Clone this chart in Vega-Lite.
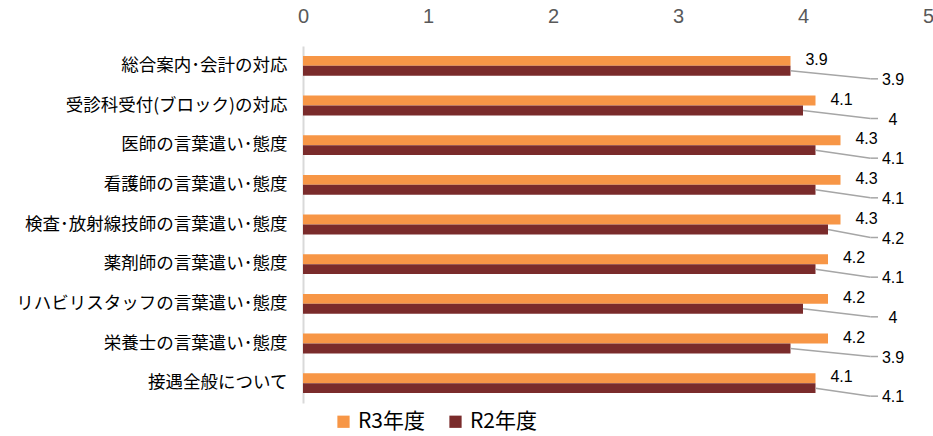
{
  "$schema": "https://vega.github.io/schema/vega-lite/v6.json",
  "autosize": "none",
  "width": 625,
  "height": 357,
  "padding": {"left": 303, "top": 46, "right": 5, "bottom": 33},
  "background": "white",
  "config": {
    "font": "Noto Sans CJK JP",
    "view": {"stroke": null}
  },
  "data": {
    "values": [
      {"cat": "総合案内･会計の対応", "year": "R3年度", "value": 3.9},
      {"cat": "総合案内･会計の対応", "year": "R2年度", "value": 3.9},
      {"cat": "受診科受付(ブロック)の対応", "year": "R3年度", "value": 4.1},
      {"cat": "受診科受付(ブロック)の対応", "year": "R2年度", "value": 4},
      {"cat": "医師の言葉遣い･態度", "year": "R3年度", "value": 4.3},
      {"cat": "医師の言葉遣い･態度", "year": "R2年度", "value": 4.1},
      {"cat": "看護師の言葉遣い･態度", "year": "R3年度", "value": 4.3},
      {"cat": "看護師の言葉遣い･態度", "year": "R2年度", "value": 4.1},
      {"cat": "検査･放射線技師の言葉遣い･態度", "year": "R3年度", "value": 4.3},
      {"cat": "検査･放射線技師の言葉遣い･態度", "year": "R2年度", "value": 4.2},
      {"cat": "薬剤師の言葉遣い･態度", "year": "R3年度", "value": 4.2},
      {"cat": "薬剤師の言葉遣い･態度", "year": "R2年度", "value": 4.1},
      {"cat": "リハビリスタッフの言葉遣い･態度", "year": "R3年度", "value": 4.2},
      {"cat": "リハビリスタッフの言葉遣い･態度", "year": "R2年度", "value": 4},
      {"cat": "栄養士の言葉遣い･態度", "year": "R3年度", "value": 4.2},
      {"cat": "栄養士の言葉遣い･態度", "year": "R2年度", "value": 3.9},
      {"cat": "接遇全般について", "year": "R3年度", "value": 4.1},
      {"cat": "接遇全般について", "year": "R2年度", "value": 4.1}
    ]
  },
  "layer": [
    {
      "mark": {"type": "bar"},
      "encoding": {
        "y": {
          "field": "cat", "type": "nominal", "sort": null,
          "scale": {"paddingInner": 0.5, "paddingOuter": 0.25},
          "axis": {
            "title": null, "ticks": false, "domain": true,
            "domainColor": "#D9D9D9", "domainWidth": 2,
            "labelFontSize": 17.5, "labelColor": "#000000",
            "labelPadding": 16, "labelLimit": 300
          }
        },
        "yOffset": {
          "field": "year", "type": "nominal", "sort": ["R3年度", "R2年度"],
          "scale": {"paddingInner": 0, "paddingOuter": 0}
        },
        "x": {
          "field": "value", "type": "quantitative",
          "scale": {"domain": [0, 5], "nice": false},
          "axis": {
            "orient": "top", "title": null, "values": [0, 1, 2, 3, 4, 5], "format": "d",
            "grid": false, "ticks": false, "domain": false, "labelFlush": false,
            "labelFontSize": 20, "labelColor": "#595959", "labelPadding": 20,
            "labelFont": "Liberation Sans"
          }
        },
        "color": {
          "field": "year", "type": "nominal",
          "scale": {"domain": ["R3年度", "R2年度"], "range": ["#F79646", "#7A2B2B"]},
          "legend": {
            "title": null, "orient": "none", "direction": "horizontal",
            "legendX": 30, "legendY": 365,
            "symbolType": "square", "symbolSize": 150, "symbolStrokeWidth": 0,
            "labelFontSize": 21, "labelColor": "#000000", "labelOffset": 4,
            "columnPadding": 20
          }
        }
      }
    },
    {
      "transform": [{"filter": "datum.year === 'R3年度'"}],
      "mark": {"type": "text", "align": "center", "baseline": "middle", "dx": 26, "dy": -1, "fontSize": 16, "font": "Liberation Sans", "color": "#000000"},
      "encoding": {
        "y": {"field": "cat", "type": "nominal", "sort": null},
        "yOffset": {"field": "year", "type": "nominal", "sort": ["R3年度", "R2年度"]},
        "x": {"field": "value", "type": "quantitative"},
        "text": {"field": "value", "type": "quantitative"}
      }
    },
    {
      "transform": [{"filter": "datum.year === 'R2年度'"}],
      "mark": {"type": "rule", "color": "#A6A6A6", "strokeWidth": 1.5, "yOffset": 5, "y2Offset": 13},
      "encoding": {
        "y": {"field": "cat", "type": "nominal", "sort": null},
        "y2": {"field": "cat"},
        "x": {"field": "value", "type": "quantitative"},
        "x2": {"datum": 4.54}
      }
    },
    {
      "transform": [{"filter": "datum.year === 'R2年度'"}],
      "mark": {"type": "rule", "color": "#A6A6A6", "strokeWidth": 1.5, "yOffset": 13},
      "encoding": {
        "y": {"field": "cat", "type": "nominal", "sort": null},
        "x": {"datum": 4.54},
        "x2": {"datum": 4.6}
      }
    },
    {
      "transform": [{"filter": "datum.year === 'R2年度'"}],
      "mark": {"type": "text", "align": "center", "baseline": "middle", "yOffset": 14, "fontSize": 16, "font": "Liberation Sans", "color": "#000000"},
      "encoding": {
        "y": {"field": "cat", "type": "nominal", "sort": null},
        "x": {"datum": 4.72},
        "text": {"field": "value", "type": "quantitative"}
      }
    }
  ]
}
